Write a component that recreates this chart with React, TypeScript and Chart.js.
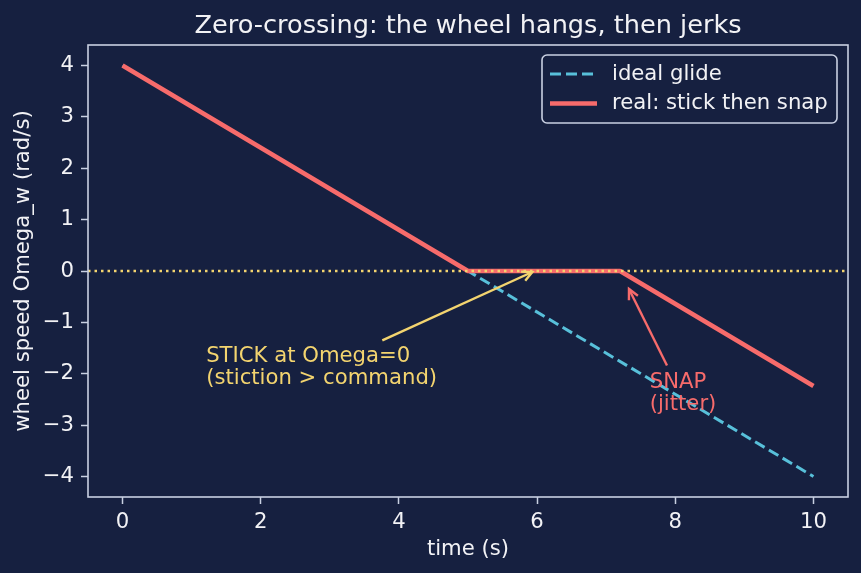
import React, { useEffect, useRef } from "react";
import { Chart, registerables } from "chart.js";

Chart.register(...registerables);

// Wheel speed over time: ideal linear glide vs. real stick-slip behaviour
const timeIdeal = [0, 10];
const omegaIdeal = [4, -4];
const timeReal = [0, 5, 7.2, 10];
const omegaReal = [4, 0, 0, -2.24];

const xTickValues = [0, 2, 4, 6, 8, 10];
const yTickValues = [-4, -3, -2, -1, 0, 1, 2, 3, 4];

const seriesLabels = ["ideal glide", "real: stick then snap"];
const titleText = "Zero-crossing: the wheel hangs, then jerks";
const xTitle = "time (s)";
const yTitle = "wheel speed Omega_w (rad/s)";

const stickNote = ["STICK at Omega=0", "(stiction > command)"];
const snapNote = ["SNAP", "(jitter)"];
// note anchors in data units (text = first-line baseline, left edge)
const stickText = [1.21, -1.77];
const stickTail = [3.76, -1.35];
const stickHead = [5.93, -0.02];
const snapText = [7.63, -2.28];
const snapTail = [7.88, -1.84];
const snapHead = [7.33, -0.35];

const BG = "#162040";
const RED = "#f76b6b";
const CYAN = "#58c0da";
const YELLOW = "#f3d46f";
const SPINE = "#c9d0e2";
const TEXT = "#f2f2f5";
const FONT = '"DejaVu Sans", sans-serif';
const FS = 21.2;

const fmt = (v: number) => (v < 0 ? "\u2212" + Math.abs(v) : String(v));

function drawArrow(ctx: CanvasRenderingContext2D, x1: number, y1: number, x2: number, y2: number, color: string) {
  ctx.save();
  ctx.strokeStyle = color;
  ctx.lineWidth = 2.4;
  ctx.setLineDash([]);
  ctx.lineCap = "butt";
  ctx.lineJoin = "miter";
  ctx.beginPath();
  ctx.moveTo(x1, y1);
  ctx.lineTo(x2, y2);
  ctx.stroke();
  const ang = Math.atan2(y2 - y1, x2 - x1);
  const L = 10;
  const W = 5;
  const bx = x2 - L * Math.cos(ang);
  const by = y2 - L * Math.sin(ang);
  const nx = -Math.sin(ang) * W;
  const ny = Math.cos(ang) * W;
  ctx.beginPath();
  ctx.moveTo(bx + nx, by + ny);
  ctx.lineTo(x2, y2);
  ctx.lineTo(bx - nx, by - ny);
  ctx.stroke();
  ctx.restore();
}

const overlay = {
  id: "overlay",
  beforeDraw(chart: any) {
    const { ctx, width, height } = chart;
    ctx.save();
    ctx.fillStyle = BG;
    ctx.fillRect(0, 0, width, height);
    ctx.restore();
  },
  afterDatasetsDraw(chart: any) {
    const { ctx, chartArea: a, scales } = chart;
    const px = (v: number) => scales.x.getPixelForValue(v);
    const py = (v: number) => scales.y.getPixelForValue(v);

    // dotted zero reference
    ctx.save();
    ctx.beginPath();
    ctx.rect(a.left, a.top, a.right - a.left, a.bottom - a.top);
    ctx.clip();
    ctx.strokeStyle = YELLOW;
    ctx.lineWidth = 2.5;
    ctx.setLineDash([2.5, 4]);
    ctx.beginPath();
    ctx.moveTo(a.left, py(0));
    ctx.lineTo(a.right, py(0));
    ctx.stroke();
    ctx.restore();

    // notes with arrows
    drawArrow(ctx, px(stickTail[0]), py(stickTail[1]), px(stickHead[0]), py(stickHead[1]), YELLOW);
    drawArrow(ctx, px(snapTail[0]), py(snapTail[1]), px(snapHead[0]), py(snapHead[1]), RED);
    ctx.save();
    ctx.font = `${FS}px ${FONT}`;
    ctx.textAlign = "left";
    ctx.textBaseline = "alphabetic";
    ctx.fillStyle = YELLOW;
    stickNote.forEach((t, i) => ctx.fillText(t, px(stickText[0]), py(stickText[1]) + i * 22));
    ctx.fillStyle = RED;
    snapNote.forEach((t, i) => ctx.fillText(t, px(snapText[0]), py(snapText[1]) + i * 21.5));
    ctx.restore();

    // spines
    ctx.save();
    ctx.strokeStyle = SPINE;
    ctx.lineWidth = 1.6;
    ctx.strokeRect(a.left, a.top, a.right - a.left, a.bottom - a.top);
    ctx.restore();

    // legend
    const bw = 295;
    const bh = 68;
    const bx = a.right - 11 - bw;
    const by = a.top + 10;
    ctx.save();
    ctx.beginPath();
    ctx.roundRect(bx, by, bw, bh, 5);
    ctx.fillStyle = "rgba(22,32,64,0.8)";
    ctx.fill();
    ctx.strokeStyle = SPINE;
    ctx.lineWidth = 1.6;
    ctx.stroke();
    const rows = [by + 19, by + 48.5];
    const styles = [
      { color: CYAN, width: 3, dash: [11, 5] },
      { color: RED, width: 4.5, dash: [] as number[] },
    ];
    rows.forEach((ry, i) => {
      ctx.beginPath();
      ctx.strokeStyle = styles[i].color;
      ctx.lineWidth = styles[i].width;
      ctx.setLineDash(styles[i].dash);
      ctx.moveTo(bx + 8, ry);
      ctx.lineTo(bx + 55, ry);
      ctx.stroke();
    });
    ctx.setLineDash([]);
    ctx.font = `${FS}px ${FONT}`;
    ctx.fillStyle = TEXT;
    ctx.textBaseline = "middle";
    ctx.textAlign = "left";
    rows.forEach((ry, i) => ctx.fillText(seriesLabels[i], bx + 70, ry));
    ctx.restore();

    // title and axis titles
    ctx.save();
    ctx.fillStyle = TEXT;
    ctx.textAlign = "center";
    ctx.textBaseline = "alphabetic";
    ctx.font = `25.6px ${FONT}`;
    ctx.fillText(titleText, (a.left + a.right) / 2, 33);
    ctx.font = `${FS}px ${FONT}`;
    ctx.fillText(xTitle, (a.left + a.right) / 2, 555);
    ctx.translate(29, (a.top + a.bottom) / 2);
    ctx.rotate(-Math.PI / 2);
    ctx.fillText(yTitle, 0, 0);
    ctx.restore();
  },
};

export default function App() {
  const ref = useRef<HTMLCanvasElement | null>(null);

  useEffect(() => {
    document.body.style.margin = "0";
    document.body.style.background = BG;
    const canvas = ref.current;
    if (!canvas) return;
    const chart = new Chart(canvas, {
      type: "line",
      data: {
        datasets: [
          {
            label: seriesLabels[0],
            data: timeIdeal.map((t, i) => ({ x: t, y: omegaIdeal[i] })),
            borderColor: CYAN,
            borderWidth: 3,
            borderDash: [11, 5],
            pointRadius: 0,
            fill: false,
            order: 2,
          },
          {
            label: seriesLabels[1],
            data: timeReal.map((t, i) => ({ x: t, y: omegaReal[i] })),
            borderColor: RED,
            borderWidth: 4.5,
            borderJoinStyle: "round",
            borderCapStyle: "butt",
            pointRadius: 0,
            fill: false,
            order: 1,
          },
        ],
      },
      options: {
        animation: false,
        responsive: false,
        devicePixelRatio: 1,
        layout: { padding: { left: 0, right: 13, top: 45, bottom: 0 } },
        plugins: { legend: { display: false }, tooltip: { enabled: false }, title: { display: false } },
        scales: {
          x: {
            type: "linear",
            min: -0.5,
            max: 10.5,
            afterFit: (s: any) => {
              s.height = 76;
            },
            afterBuildTicks: (s: any) => {
              s.ticks = xTickValues.map((v) => ({ value: v }));
            },
            grid: { drawOnChartArea: false, drawTicks: true, tickLength: 7, tickWidth: 1.5, tickColor: SPINE },
            border: { display: false },
            ticks: {
              color: TEXT,
              font: { family: FONT, size: FS },
              padding: 6,
              maxRotation: 0,
              autoSkip: false,
              callback: (v: any) => fmt(Number(v)),
            },
          },
          y: {
            type: "linear",
            min: -4.4,
            max: 4.4,
            afterFit: (s: any) => {
              s.width = 88;
            },
            afterBuildTicks: (s: any) => {
              s.ticks = yTickValues.map((v) => ({ value: v }));
            },
            grid: { drawOnChartArea: false, drawTicks: true, tickLength: 7, tickWidth: 1.5, tickColor: SPINE },
            border: { display: false },
            ticks: {
              color: TEXT,
              font: { family: FONT, size: FS },
              padding: 7,
              autoSkip: false,
              callback: (v: any) => fmt(Number(v)),
            },
          },
        },
      },
      plugins: [overlay],
    } as any);
    return () => chart.destroy();
  }, []);

  return (
    <div style={{ position: "fixed", left: 0, top: 0, width: 861, height: 573, background: BG }}>
      <canvas ref={ref} width={861} height={573} style={{ display: "block" }} />
    </div>
  );
}
